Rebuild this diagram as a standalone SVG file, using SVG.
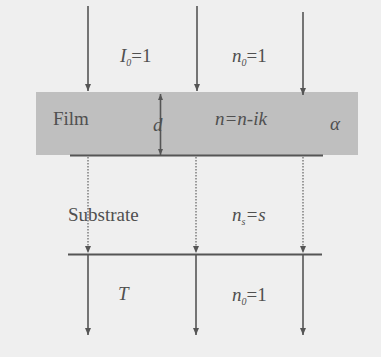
<svg xmlns="http://www.w3.org/2000/svg" width="381" height="357" viewBox="0 0 381 357">
<defs>
<marker id="ah" markerWidth="8" markerHeight="8" refX="7" refY="4" orient="auto" markerUnits="userSpaceOnUse">
<path d="M0,1 L7,4 L0,7 Z" fill="#555"/>
</marker>
<marker id="ahs" markerWidth="7" markerHeight="7" refX="6" refY="3.5" orient="auto-start-reverse" markerUnits="userSpaceOnUse">
<path d="M0,1 L6,3.5 L0,6 Z" fill="#555"/>
</marker>
</defs>
<style>
.t{font-family:"Liberation Serif","Times New Roman",serif;font-size:19px;fill:#505050}
.i{font-style:italic}
.n{font-style:normal}
.s{font-size:10px}
.solid{stroke:#555;stroke-width:1.6;fill:none}
.dot{stroke:#777;stroke-width:1.4;stroke-dasharray:1.5 1.5;fill:none}
.line{stroke:#555;stroke-width:1.8}
</style>
<rect width="381" height="357" fill="#efefef"/>
<g id="film">
<rect x="36" y="92" width="322" height="63" fill="#bfbfbf"/>
<line class="line" x1="70" y1="155.5" x2="323" y2="155.5"/>
<text class="t" x="53" y="125">Film</text>
<text class="t i" x="215" y="125">n=n-ik</text>
<text class="t i" x="330" y="130">α</text>
</g>
<g id="substrate">
<line class="line" x1="68" y1="254.5" x2="322" y2="254.5"/>
<text class="t" x="68" y="221">Substrate</text>
<text class="t i" x="232" y="221">n<tspan class="s" dy="4">s</tspan><tspan dy="-4">=s</tspan></text>
</g>
<g id="top-labels">
<text class="t i" x="120" y="62">I<tspan class="s" dy="4">0</tspan><tspan class="n" dy="-4">=1</tspan></text>
<text class="t i" x="232" y="62">n<tspan class="s" dy="4">0</tspan><tspan class="n" dy="-4">=1</tspan></text>
</g>
<g id="bottom-labels">
<text class="t i" x="118" y="300">T</text>
<text class="t i" x="232" y="301">n<tspan class="s" dy="4">0</tspan><tspan class="n" dy="-4">=1</tspan></text>
</g>
<g id="connectors">
<line class="solid" x1="88" y1="6" x2="88" y2="91" marker-end="url(#ah)"/>
<line class="solid" x1="197" y1="6" x2="197" y2="91" marker-end="url(#ah)"/>
<line class="solid" x1="303" y1="12" x2="303" y2="95" marker-end="url(#ah)"/>
<line class="solid" x1="160.5" y1="94" x2="160.5" y2="155" marker-start="url(#ahs)" marker-end="url(#ahs)" stroke-width="1.2"/>
<text class="t i" x="153" y="131">d</text>
<line class="dot" x1="88" y1="157" x2="88" y2="253" marker-end="url(#ah)"/>
<line class="dot" x1="196" y1="157" x2="196" y2="253" marker-end="url(#ah)"/>
<line class="dot" x1="303" y1="157" x2="303" y2="253" marker-end="url(#ah)"/>
<line class="solid" x1="88" y1="255" x2="88" y2="335" marker-end="url(#ah)"/>
<line class="solid" x1="196" y1="255" x2="196" y2="335" marker-end="url(#ah)"/>
<line class="solid" x1="303" y1="255" x2="303" y2="335" marker-end="url(#ah)"/>
</g>
</svg>
